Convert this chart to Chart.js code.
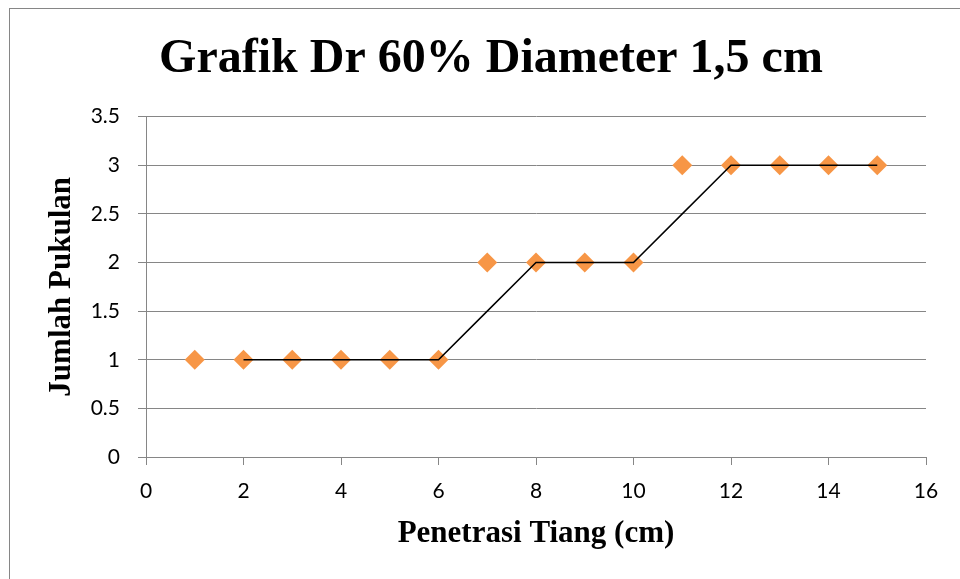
<!DOCTYPE html>
<html>
<head>
<meta charset="utf-8">
<script src="https://cdn.jsdelivr.net/npm/chart.js@4/dist/chart.umd.min.js"></script>
<style>
  html, body { margin: 0; padding: 0; background: #fff; overflow: hidden; }
  #chartCanvas { display: block; }
</style>
</head>
<body>
<canvas id="chartCanvas" width="982" height="579"></canvas>
<script>
// observed points (penetrasi vs jumlah pukulan)
var penetrasi = [1, 2, 3, 4, 5, 6, 7, 8, 9, 10, 11, 12, 13, 14, 15];
var pukulan = [1, 1, 1, 1, 1, 1, 2, 2, 2, 2, 3, 3, 3, 3, 3];

// black trend line (starts at x = 2)
var trendX = [2, 3, 4, 5, 6, 7, 8, 9, 10, 11, 12, 13, 14, 15];
var trendY = [1, 1, 1, 1, 1, 1.5, 2, 2, 2, 2.5, 3, 3, 3, 3];

var xTicks = [0, 2, 4, 6, 8, 10, 12, 14, 16];
var yTicks = [0, 0.5, 1, 1.5, 2, 2.5, 3, 3.5];

var chartTitle = 'Grafik Dr 60% Diameter 1,5 cm';
var xTitle = 'Penetrasi Tiang (cm)';
var yTitle = 'Jumlah Pukulan';

var gray = '#868686';
var serif = "'Liberation Serif', 'Times New Roman', serif";
var sans = "Lato, 'Open Sans', sans-serif";

function toPoints(xs, ys) {
    var pts = [];
    for (var i = 0; i < xs.length; i++) {
        pts.push({ x: xs[i], y: ys[i] });
    }
    return pts;
}

function plainLabel(value) {
    return String(value);
}

// outer frame of the chart (cut off on the right and bottom)
var framePlugin = {
    id: 'frame',
    beforeDraw: function (chart) {
        var c = chart.ctx;
        c.save();
        c.fillStyle = '#fff';
        c.fillRect(0, 0, chart.width, chart.height);
        c.strokeStyle = gray;
        c.lineWidth = 1;
        c.strokeRect(9.5, 8.5, 2000, 2000);
        c.restore();
    }
};

var ctx = document.getElementById('chartCanvas').getContext('2d');
var myChart = new Chart(ctx, {
    type: 'scatter',
    data: {
        datasets: [{
            type: 'line',
            label: 'trend',
            data: toPoints(trendX, trendY),
            borderColor: '#000',
            borderWidth: 1.5,
            pointRadius: 0,
            fill: false,
            tension: 0
        }, {
            label: 'data',
            data: toPoints(penetrasi, pukulan),
            pointStyle: 'rectRot',
            pointRadius: 10,
            pointBorderWidth: 0,
            backgroundColor: '#F79646',
            borderColor: '#F79646'
        }]
    },
    options: {
        responsive: false,
        animation: false,
        devicePixelRatio: 1,
        layout: { padding: 0 },
        plugins: {
            legend: { display: false },
            tooltip: { enabled: false },
            title: {
                display: true,
                text: chartTitle,
                color: '#000',
                font: { family: serif, size: 48, weight: 'bold' },
                padding: { top: 31, bottom: 28 }
            }
        },
        scales: {
            x: {
                type: 'linear',
                min: 0,
                max: 16,
                afterBuildTicks: function (scale) {
                    scale.ticks = xTicks.map(function (v) { return { value: v }; });
                },
                afterFit: function (scale) { scale.height = 122; },
                grid: { drawOnChartArea: false, drawTicks: true, tickLength: 8, color: gray },
                border: { color: gray, width: 1 },
                ticks: { color: '#000', padding: 14, font: { family: sans, size: 21 }, callback: plainLabel },
                title: {
                    display: true,
                    text: xTitle,
                    color: '#000',
                    font: { family: serif, size: 31, weight: 'bold' },
                    padding: { top: 0, bottom: 26 }
                }
            },
            y: {
                type: 'linear',
                min: 0,
                max: 3.5,
                afterBuildTicks: function (scale) {
                    scale.ticks = yTicks.map(function (v) { return { value: v }; });
                },
                afterFit: function (scale) { scale.width = 146; },
                grid: { drawOnChartArea: true, drawTicks: true, tickLength: 8, color: gray },
                border: { color: gray, width: 1 },
                ticks: { color: '#000', padding: 18, font: { family: sans, size: 21 }, callback: plainLabel },
                title: {
                    display: true,
                    text: yTitle,
                    color: '#000',
                    font: { family: serif, size: 31, weight: 'bold' },
                    padding: { top: 43, bottom: 0 }
                }
            },
            // empty right-hand strip so the plot ends at the same place as the original
            yRight: {
                type: 'linear',
                position: 'right',
                min: 0,
                max: 3.5,
                afterFit: function (scale) { scale.width = 56; },
                grid: { drawOnChartArea: false, drawTicks: false },
                border: { display: false },
                ticks: { display: false }
            }
        }
    },
    plugins: [framePlugin]
});
</script>
</body>
</html>
